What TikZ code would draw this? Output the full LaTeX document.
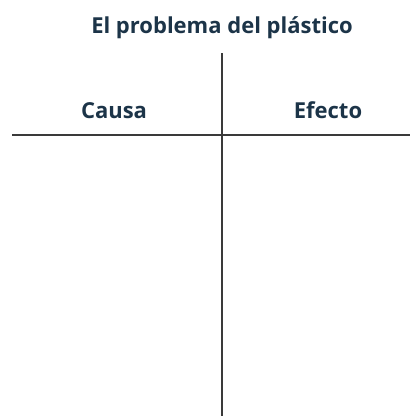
\documentclass[tikz,border=0pt]{standalone}
\usepackage{fontspec}
\setmainfont{Open Sans}
\usetikzlibrary{positioning}
\definecolor{titleblue}{HTML}{1C3448}
\definecolor{linegray}{HTML}{3A3A3A}
\tikzset{heading/.style={font=\bfseries\fontsize{22}{26}\selectfont,text=titleblue,inner sep=0pt,anchor=base},
  rule/.style={draw=linegray,line width=1.6pt}}
\begin{document}
\begin{tikzpicture}[x=1pt,y=-1pt]
  \useasboundingbox (0,0) rectangle (410,416);
  \node[heading] (title) at (222,33) {El problema del plástico};
  \node[heading] (cause) at (114,118) {Causa};
  \node[heading] (effect) at (328,118) {Efecto};
  % T chart
  \coordinate (left) at (12,135);
  \coordinate (right) at (410,135);
  \coordinate (top) at (222,53);
  \coordinate (bottom) at (222,416);
  \draw[rule] (left) -- (right);
  \draw[rule] (top) -- (bottom);
\end{tikzpicture}
\end{document}
